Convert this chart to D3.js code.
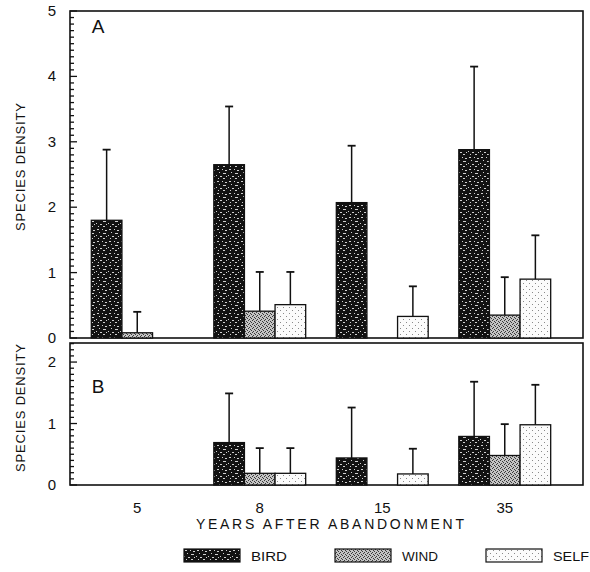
<!DOCTYPE html>
<html>
<head>
<meta charset="utf-8">
<script src="https://cdn.jsdelivr.net/npm/d3@7"></script>
<style>
  body { margin: 0; background: #fff; }
  svg text { font-family: "Liberation Sans", Arial, sans-serif; fill: #111; }
</style>
</head>
<body>
<svg id="chart" width="590" height="572"></svg>
<script>
// data
const years = ["5", "8", "15", "35"];
const series = ["BIRD", "WIND", "SELF"];

// panel A: mean species density and upper error (sd)
const aBird = [1.80, 2.65, 2.07, 2.88];
const aWind = [0.08, 0.41, 0, 0.35];
const aSelf = [0, 0.51, 0.33, 0.90];
const aBirdSd = [1.08, 0.89, 0.87, 1.27];
const aWindSd = [0.32, 0.60, 0, 0.58];
const aSelfSd = [0, 0.50, 0.46, 0.67];

// panel B
const bBird = [0, 0.69, 0.44, 0.79];
const bWind = [0, 0.19, 0, 0.48];
const bSelf = [0, 0.19, 0.18, 0.98];
const bBirdSd = [0, 0.80, 0.82, 0.89];
const bWindSd = [0, 0.41, 0, 0.51];
const bSelfSd = [0, 0.41, 0.41, 0.65];

const svg = d3.select("#chart");
const left = 70, right = 583;

// ---- fill patterns (rough halftone look)
const defs = svg.append("defs");
function speckle(id, bg, dot, size, pts) {
    const p = defs.append("pattern").attr("id", id)
        .attr("patternUnits", "userSpaceOnUse").attr("width", size).attr("height", size);
    p.append("rect").attr("width", size).attr("height", size).attr("fill", bg);
    pts.forEach(([x, y, w, h]) => p.append("rect").attr("x", x).attr("y", y)
        .attr("width", w).attr("height", h).attr("fill", dot));
}
speckle("pBird", "#121212", "#cfcfcf", 12,
    [[1, 1, 2, 1], [6, 1, 1, 1], [9, 2, 2, 1], [3, 4, 1, 1], [7, 5, 3, 1],
     [0, 7, 1, 1], [4, 8, 2, 1], [10, 8, 1, 1], [2, 10, 1, 1], [7, 10, 2, 1]]);
speckle("pWind", "#c4c4c4", "#3a3a3a", 4,
    [[0, 0, 1, 1], [2, 1, 1, 1], [1, 3, 1, 1], [3, 2, 1, 1]]);
speckle("pSelf", "#fbfbfb", "#8a8a8a", 6,
    [[1, 1, 1, 1], [4, 4, 1, 1]]);
const fills = { BIRD: "url(#pBird)", WIND: "url(#pWind)", SELF: "url(#pSelf)" };

// shared x scales
const x0 = d3.scaleBand().domain(years).range([76, 566])
    .paddingInner(0.25).paddingOuter(0.125);
const x1 = d3.scaleBand().domain(series).range([0, x0.bandwidth()]);

function drawPanel(cfg) {
    const { top, bottom, max, tag, tagY, rows, labelY } = cfg;
    const y = d3.scaleLinear().domain([0, max]).range([bottom, top]);
    const g = svg.append("g");

    // frame
    g.append("rect").attr("x", left).attr("y", top)
        .attr("width", right - left).attr("height", bottom - top)
        .attr("fill", "none").attr("stroke", "#111").attr("stroke-width", 1.6);

    // inward ticks, minor every 0.1
    const ticks = d3.range(0, Math.floor(max * 10) + 1).map(i => i / 10);
    g.selectAll(".tk").data(ticks).join("line")
        .attr("x1", left).attr("x2", d => left + (Math.abs(d - Math.round(d)) < 1e-6 ? 7 : 4))
        .attr("y1", d => y(d)).attr("y2", d => y(d))
        .attr("stroke", "#111").attr("stroke-width", 1.3);

    g.selectAll(".tl").data(d3.range(0, Math.floor(max) + 1)).join("text")
        .attr("x", 56).attr("y", d => y(d) + 5)
        .attr("text-anchor", "end").attr("font-size", 15)
        .text(d => d);

    g.append("text").attr("transform", `translate(25,${labelY}) rotate(-90)`)
        .attr("text-anchor", "middle").attr("font-size", 13)
        .attr("textLength", 128).attr("lengthAdjust", "spacing")
        .text("SPECIES DENSITY");

    g.append("text").attr("x", 98).attr("y", tagY)
        .attr("text-anchor", "middle").attr("font-size", 19)
        .text(tag);

    // bars
    const data = [];
    years.forEach((yr, i) => series.forEach((s, j) => {
        data.push({ yr, s, v: rows[j][0][i], sd: rows[j][1][i] });
    }));
    const vis = data.filter(d => d.v > 0);

    g.selectAll(".bar").data(vis).join("rect")
        .attr("x", d => x0(d.yr) + x1(d.s))
        .attr("y", d => y(d.v))
        .attr("width", x1.bandwidth())
        .attr("height", d => y(0) - y(d.v))
        .attr("fill", d => fills[d.s])
        .attr("stroke", "#111").attr("stroke-width", 1.3);

    const eb = vis.filter(d => d.sd > 0);
    const cx = d => x0(d.yr) + x1(d.s) + x1.bandwidth() / 2;
    g.selectAll(".eb").data(eb).join("line")
        .attr("x1", cx).attr("x2", cx)
        .attr("y1", d => y(d.v)).attr("y2", d => y(d.v + d.sd))
        .attr("stroke", "#111").attr("stroke-width", 1.5);
    g.selectAll(".cap").data(eb).join("line")
        .attr("x1", d => cx(d) - 4).attr("x2", d => cx(d) + 4)
        .attr("y1", d => y(d.v + d.sd)).attr("y2", d => y(d.v + d.sd))
        .attr("stroke", "#111").attr("stroke-width", 1.8);
}

drawPanel({
    top: 11, bottom: 338, max: 5, tag: "A", tagY: 33, labelY: 167,
    rows: [[aBird, aBirdSd], [aWind, aWindSd], [aSelf, aSelfSd]]
});
drawPanel({
    top: 343, bottom: 485, max: 2.31, tag: "B", tagY: 393, labelY: 408,
    rows: [[bBird, bBirdSd], [bWind, bWindSd], [bSelf, bSelfSd]]
});

// x labels
svg.selectAll(".xl").data(years).join("text")
    .attr("x", d => x0(d) + x0.bandwidth() / 2).attr("y", 513)
    .attr("text-anchor", "middle").attr("font-size", 15)
    .text(d => d);
svg.append("text").attr("x", 196).attr("y", 529)
    .attr("font-size", 14).attr("textLength", 268).attr("lengthAdjust", "spacing")
    .text("YEARS AFTER ABANDONMENT");

// legend
const legX = d3.scalePoint().domain(series).range([184, 486]);
const leg = svg.selectAll(".lg").data(series).join("g")
    .attr("transform", d => `translate(${legX(d)},549)`);
leg.append("rect").attr("width", 56).attr("height", 13)
    .attr("fill", d => fills[d]).attr("stroke", "#111").attr("stroke-width", 1.2);
leg.append("text").attr("x", 67).attr("y", 12).attr("font-size", 13)
    .attr("textLength", 36).attr("lengthAdjust", "spacingAndGlyphs")
    .text(d => d);
</script>
</body>
</html>
